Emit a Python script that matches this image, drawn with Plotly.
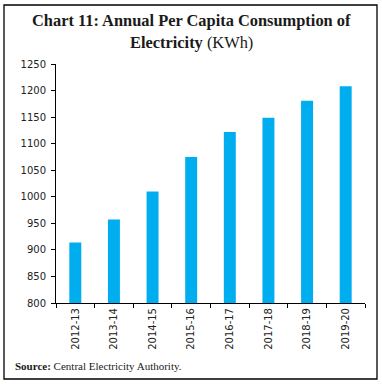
import plotly.graph_objects as go

years = ["2012-13", "2013-14", "2014-15", "2015-16", "2016-17", "2017-18", "2018-19", "2019-20"]
consumption = [914, 957, 1010, 1075, 1122, 1149, 1181, 1208]
y_ticks = [800, 850, 900, 950, 1000, 1050, 1100, 1150, 1200, 1250]

fig = go.Figure()
fig.add_trace(go.Bar(x=years, y=consumption, marker=dict(color="#00AEEF", line=dict(width=0)),
                     width=0.31))

fig.update_layout(
    width=382, height=384,
    margin=dict(l=56, r=17, t=64, b=81),
    paper_bgcolor="white", plot_bgcolor="white",
    showlegend=False,
    font=dict(family="DejaVu Sans", size=10, color="#222"),
)
fig.layout.shapes = [dict(type="rect", xref="paper", yref="paper",
                          x0=(4-56)/309, x1=(377-56)/309,
                          y0=(303-379)/239, y1=(303-5)/239,
                          line=dict(color="black", width=1.3))]

fig.update_xaxes(showline=True, linecolor="black", linewidth=1, ticks="outside", ticklen=4,
                 tickcolor="black", tickson="boundaries", tickangle=-90,
                 tickfont=dict(family="DejaVu Sans", size=10, color="#222"), showgrid=False)
fig.update_yaxes(range=[800, 1250], tickvals=y_ticks, showline=True, linecolor="black", linewidth=1,
                 ticks="outside", ticklen=4, tickcolor="black", showgrid=False, ticklabelstandoff=3,
                 tickfont=dict(family="DejaVu Sans", size=10, color="#222"), zeroline=False)

fig.add_annotation(text="<b>Chart 11: Annual Per Capita Consumption of</b>",
                   xref="paper", yref="paper", x=(191-56)/309, y=(303-21)/239,
                   showarrow=False, font=dict(family="Liberation Serif", size=16.4, color="#1a1a1a"),
                   xanchor="center", yanchor="middle")
fig.add_annotation(text="<b>Electricity</b> (KWh)",
                   xref="paper", yref="paper", x=(191-56)/309, y=(303-42)/239,
                   showarrow=False, font=dict(family="Liberation Serif", size=16.4, color="#1a1a1a"),
                   xanchor="center", yanchor="middle")
fig.add_annotation(text="<b>Source:</b> Central Electricity Authority.",
                   xref="paper", yref="paper", x=(13-56)/309, y=(303-366)/239,
                   showarrow=False, font=dict(family="Liberation Serif", size=11, color="#1a1a1a"),
                   xanchor="left", yanchor="middle")

fig.write_html("out.html", config={"displayModeBar": False},
               post_script="document.body.style.margin='0';document.body.style.overflow='hidden';")
